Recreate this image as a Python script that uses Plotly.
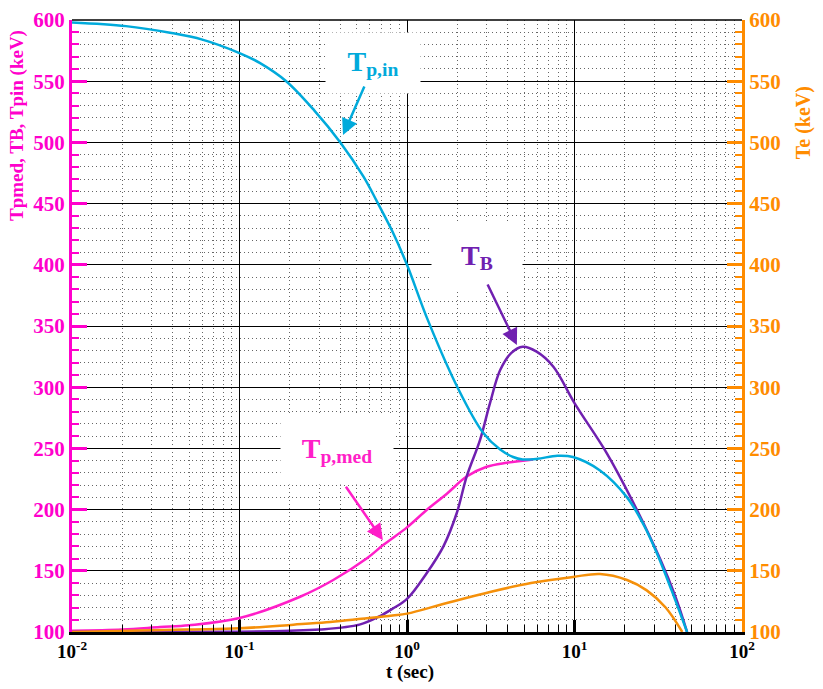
import plotly.graph_objects as go

# ---------------- data ----------------
t_in = [0.01, 0.021, 0.0385, 0.06, 0.1, 0.132, 0.19, 0.28, 0.4, 0.55, 0.66, 0.82, 1.0,
        1.33, 2.0, 2.84, 3.6, 4.3, 4.9, 6.0, 7.9, 9.8, 14.2, 20.6, 26, 31, 38, 47]
Tp_in = [598, 595, 589.6, 584, 573, 565, 550, 526, 500, 472, 452, 427, 400,
         355, 300, 263, 249, 243, 241, 241.5, 244, 243, 232, 210, 187, 164.5, 134, 100]

t_B = [0.01, 0.1, 0.2, 0.3, 0.52, 0.69, 0.82, 1.0, 1.31, 1.65, 1.98, 2.27, 2.73, 3.13,
       3.6, 4.2, 4.9, 5.94, 7.48, 10.0, 15.6, 22, 32.6, 40, 47]
T_B = [100, 100.3, 101, 102, 106, 113, 119, 127, 148, 170, 197, 227, 257, 287,
       314, 328, 333, 329, 316.7, 287, 246, 208, 159, 129, 100]

t_med = [0.01, 0.02, 0.0335, 0.05, 0.1, 0.23, 0.363, 0.574, 0.72, 1.0, 1.31, 1.73,
         2.27, 2.99, 3.94, 5.66]
Tp_med = [101, 102, 104, 105.5, 111.4, 128.8, 142.5, 160, 171, 185.5, 199.7, 213,
          227, 235, 238.3, 241]

t_e = [0.01, 0.048, 0.1, 0.21, 0.33, 0.5, 0.82, 1.0, 1.73, 3.13, 5.5, 9.8, 14.2,
       20.6, 27, 35, 44]
Te = [100, 102, 103, 106, 108, 110.5, 113.5, 115, 123.7, 132.7, 140, 145, 147.4,
      142.5, 134, 120, 100]

x_tickvals = [0.01, 0.1, 1, 10, 100]
x_ticktext = ["10<sup>-2</sup>", "10<sup>-1</sup>", "10<sup>0</sup>", "10<sup>1</sup>", "10<sup>2</sup>"]
x_minorvals = [k * 10.0 ** e for e in range(-2, 2) for k in range(2, 10)]
y_tickvals = [100, 150, 200, 250, 300, 350, 400, 450, 500, 550, 600]

# ---------------- styling ----------------
MAG = "#FF1EC8"
MAG_AX = "#FF00CC"
CYAN = "#00AADB"
PURP = "#7020B0"
ORNG = "#F5900A"
ORNG_AX = "#FF8C00"
FONT = "Liberation Serif"
DOTS = "1px,3px"

fig = go.Figure()
fig.add_trace(go.Scatter(x=t_e, y=Te, mode="lines", line=dict(color=ORNG, width=2.5, shape="spline"),
                         yaxis="y2", name="Te"))
fig.add_trace(go.Scatter(x=t_med, y=Tp_med, mode="lines", line=dict(color=MAG, width=2.5, shape="spline"),
                         name="Tp,med"))
fig.add_trace(go.Scatter(x=t_B, y=T_B, mode="lines", line=dict(color=PURP, width=2.5, shape="spline"),
                         name="TB"))
fig.add_trace(go.Scatter(x=t_in, y=Tp_in, mode="lines", line=dict(color=CYAN, width=2.5, shape="spline"),
                         name="Tp,in"))

# the page body adds an 8px margin, so the figure is 8px smaller on each side
fig.update_layout(
    width=815, height=681,
    margin=dict(l=64, r=81, t=12, b=57),
    paper_bgcolor="white", plot_bgcolor="white",
    showlegend=False,
    font=dict(family=FONT),
    xaxis=dict(
        type="log", range=[-2, 2], automargin=False,
        tickmode="array", tickvals=x_tickvals, ticktext=x_ticktext,
        tickfont=dict(family=FONT, size=19, color="black", weight="bold"),
        ticks="inside", ticklen=12, tickwidth=2.5, tickcolor="black",
        showgrid=True, gridcolor="black", gridwidth=1,
        showline=True, linecolor="black", linewidth=3,
        zeroline=False,
        minor=dict(tickmode="array", tickvals=x_minorvals, ticks="inside", ticklen=7,
                   tickcolor="black", tickwidth=1,
                   showgrid=True, gridcolor="#666666", gridwidth=1, griddash=DOTS),
    ),
    yaxis=dict(
        range=[100, 600], tickmode="array", tickvals=y_tickvals, automargin=False,
        tickfont=dict(family=FONT, size=21, color=MAG_AX, weight="bold"),
        ticks="inside", ticklen=15, tickwidth=3, tickcolor=MAG_AX,
        showgrid=True, gridcolor="black", gridwidth=1,
        showline=True, linecolor=MAG_AX, linewidth=3,
        zeroline=False,
        minor=dict(dtick=10, ticks="inside", ticklen=7, tickcolor=MAG_AX, tickwidth=1.5,
                   showgrid=True, gridcolor="#666666", gridwidth=1, griddash=DOTS),
    ),
    yaxis2=dict(
        range=[100, 600], tickmode="array", tickvals=y_tickvals, automargin=False,
        overlaying="y", side="right",
        tickfont=dict(family=FONT, size=21, color=ORNG_AX, weight="bold"),
        ticks="inside", ticklen=15, tickwidth=3, tickcolor=ORNG_AX,
        showgrid=False, showline=True, linecolor=ORNG_AX, linewidth=3,
        zeroline=False,
        minor=dict(dtick=10, ticks="inside", ticklen=7, tickcolor=ORNG_AX, tickwidth=1.5,
                   showgrid=False),
    ),
)

# top frame line
fig.add_shape(type="line", xref="paper", yref="paper", x0=0, x1=1, y0=1, y1=1,
              line=dict(color="black", width=1.5))

# axis titles (placed like the reference: near the top of each axis)
fig.add_annotation(text="Tpmed, TB, Tpin (keV)", x=-0.081, y=0.828, xref="paper", yref="paper",
                   textangle=-90, showarrow=False, xanchor="center", yanchor="middle",
                   font=dict(family=FONT, size=19, color=MAG_AX, weight="bold"))
fig.add_annotation(text="Te (keV)", x=1.091, y=0.833, xref="paper", yref="paper",
                   textangle=-90, showarrow=False, xanchor="center", yanchor="middle",
                   font=dict(family=FONT, size=20, color=ORNG_AX, weight="bold"))
fig.add_annotation(text="t (sec)", x=0.504, y=-0.065, xref="paper", yref="paper",
                   showarrow=False, xanchor="center", yanchor="middle",
                   font=dict(family=FONT, size=19, color="black", weight="bold"))

# label boxes (paper coordinates)
labels = [
    ("T<sub>p,in</sub>", CYAN, 0.449, 0.930, 92, 58),
    ("T<sub>B</sub>", PURP, 0.604, 0.612, 88, 64),
    ("T<sub>p,med</sub>", MAG, 0.395, 0.297, 110, 66),
]
for txt, col, xp, yp, w, h in labels:
    fig.add_annotation(text=txt, x=xp, y=yp, xref="paper", yref="paper", showarrow=False,
                       xanchor="center", yanchor="middle",
                       font=dict(family=FONT, size=28, color=col, weight="bold"),
                       bgcolor="white", width=w, height=h, align="center", valign="middle")

arrows = [
    (CYAN, 0.4045, 0.812, 22, -50),
    (PURP, 0.664, 0.469, -30, -62),
    (MAG, 0.464, 0.150, -38, -55),
]
for col, xp, yp, ax, ay in arrows:
    fig.add_annotation(text="", x=xp, y=yp, xref="paper", yref="paper", ax=ax, ay=ay,
                       showarrow=True, arrowhead=2, arrowsize=1.3, arrowwidth=2.5, arrowcolor=col)

fig.write_html("out.html")
